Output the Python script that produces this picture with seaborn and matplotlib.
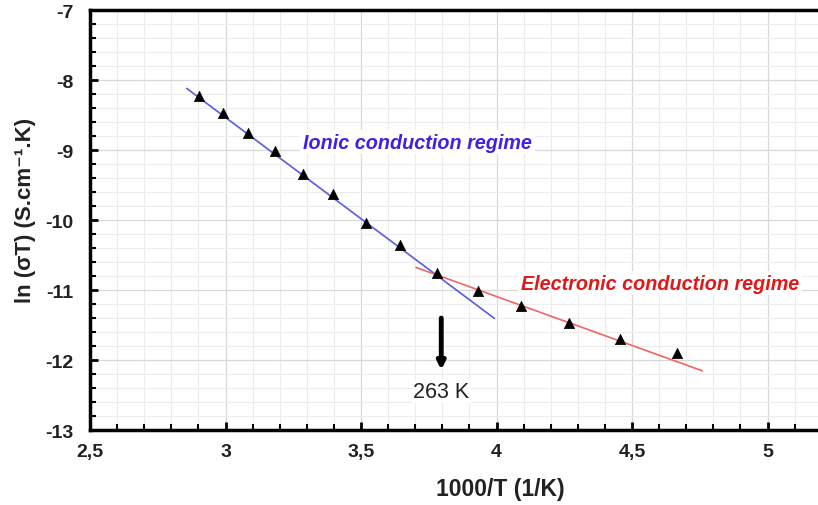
import matplotlib
matplotlib.use("Agg")
import matplotlib.pyplot as plt
import seaborn as sns
import pandas as pd
from matplotlib.ticker import MultipleLocator, FixedLocator

sns.set_theme(style="white")
plt.rcParams['font.family'] = ['Liberation Sans', 'DejaVu Sans']

# measured points: 1000/T vs ln(sigma T)
inv_T = [2.903, 2.989, 3.083, 3.181, 3.285, 3.396, 3.517, 3.643, 3.781,
         3.932, 4.090, 4.266, 4.457, 4.664]
ln_sigmaT = [-8.224, -8.476, -8.757, -9.014, -9.343, -9.629, -10.047, -10.353, -10.761,
             -11.010, -11.233, -11.467, -11.704, -11.904]

# linear fits (end points)
ionic_fit_x = [2.857, 3.992]
ionic_fit_y = [-8.119, -11.404]
elec_fit_x = [3.703, 4.759]
elec_fit_y = [-10.676, -12.153]

x_ticks = [2.5, 3, 3.5, 4, 4.5, 5]
x_ticklabels = ["2,5", "3", "3,5", "4", "4,5", "5"]
y_ticks = [-13, -12, -11, -10, -9, -8, -7]
y_ticklabels = ["-13", "-12", "-11", "-10", "-9", "-8", "-7"]

fig = plt.figure(figsize=(8.18, 5.06), dpi=100)
ax = fig.add_axes([0.110, 0.148, 0.890, 0.830])

ionic_df = pd.DataFrame({"x": ionic_fit_x, "y": ionic_fit_y})
elec_df = pd.DataFrame({"x": elec_fit_x, "y": elec_fit_y})
pts_df = pd.DataFrame({"x": inv_T, "y": ln_sigmaT})

sns.lineplot(data=ionic_df, x="x", y="y", ax=ax, color="#5a5ae6", lw=1.2, zorder=3)
sns.lineplot(data=elec_df, x="x", y="y", ax=ax, color="#f06464", lw=1.2, zorder=3)
sns.scatterplot(data=pts_df, x="x", y="y", ax=ax, marker="^", s=55, color="black",
                edgecolor="black", linewidth=0.5, zorder=4)

ax.set_xlim(2.5, 5.186)
ax.set_ylim(-13, -7)

ax.xaxis.set_major_locator(FixedLocator(x_ticks))
ax.set_xticklabels(x_ticklabels)
ax.yaxis.set_major_locator(FixedLocator(y_ticks))
ax.set_yticklabels(y_ticklabels)
ax.xaxis.set_minor_locator(MultipleLocator(0.1))
ax.yaxis.set_minor_locator(MultipleLocator(0.2))

ax.grid(True, which="major", color="#d8d8d8", lw=0.9)
ax.grid(True, which="minor", color="#ececec", lw=0.8)
ax.set_axisbelow(True)

for side in ["left", "bottom", "top"]:
    ax.spines[side].set_visible(True)
    ax.spines[side].set_color("black")
    ax.spines[side].set_linewidth(2.5)
ax.spines["right"].set_visible(False)

ax.tick_params(which="major", direction="in", length=6, width=2, color="black",
               labelsize=14)
ax.tick_params(axis="y", which="major", pad=12)
ax.tick_params(axis="x", which="major", pad=9)
ax.tick_params(which="minor", direction="in", length=4, width=1.5, color="black")
ax.tick_params(axis="both", which="both", top=False, right=False, left=True, bottom=True)
for lab in ax.get_xticklabels() + ax.get_yticklabels():
    lab.set_fontweight("bold")
    lab.set_color("#222222")

ax.set_xlabel("1000/T (1/K)", fontsize=16.5, fontweight="bold", color="#222222", va="center")
ax.xaxis.set_label_coords(0.563, -0.140)
ax.set_ylabel("ln (σT) (S.cm⁻¹.K)", fontsize=16, fontweight="bold",
              color="#222222", va="center")
ax.yaxis.set_label_coords(-0.088, 0.526)

ax.text(3.286, -8.886, "Ionic conduction regime", color="#3c22e6", fontsize=14.2,
        fontweight="bold", fontstyle="italic", va="center", ha="left",
        bbox=dict(facecolor="white", edgecolor="none", pad=2), zorder=2)
ax.text(4.09, -10.90, "Electronic conduction regime", color="#e01818", fontsize=14.2,
        fontweight="bold", fontstyle="italic", va="center", ha="left",
        bbox=dict(facecolor="white", edgecolor="none", pad=2), zorder=2)

ax.annotate("", xy=(3.796, -12.14), xytext=(3.796, -11.40),
            arrowprops=dict(arrowstyle="-|>", color="black", lw=3.5,
                            mutation_scale=11, shrinkA=0, shrinkB=0), zorder=5)
ax.text(3.796, -12.45, "263 K", fontsize=15.5, color="#222222", ha="center", va="center",
        bbox=dict(facecolor="white", edgecolor="none", pad=1), zorder=5)

fig.savefig("out.png", dpi=100)
